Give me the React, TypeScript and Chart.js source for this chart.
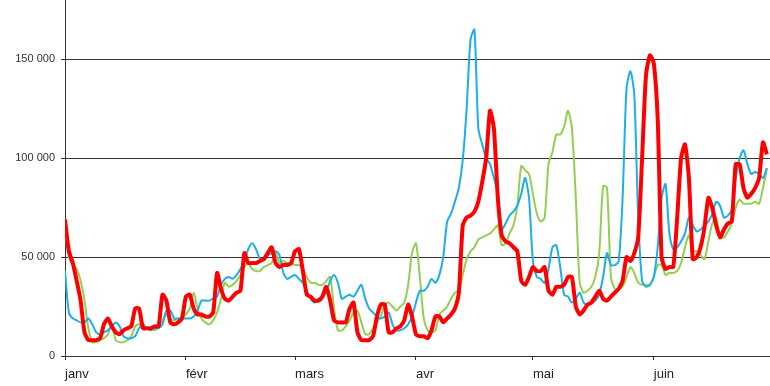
import React, { useEffect, useRef } from "react";
import { Chart, registerables } from "chart.js";

Chart.register(...registerables);

// Day index 0 = 1 janv; month starts (day index) and their labels
const monthStarts = [0, 31, 59, 90, 120, 151];
const monthLabels = ["janv", "févr", "mars", "avr", "mai", "juin"];
const yTicks = [0, 50000, 100000, 150000];

// Daily values, in thousands
const redValues = [
  69, 53, 47, 38, 28, 12, 8, 8, 8, 9,
  16, 19, 15, 12, 11, 13, 14, 15, 24, 24,
  14, 14, 14, 15, 15, 31, 28, 17, 16, 17,
  19, 30, 31, 24, 21, 21, 20, 20, 22, 42,
  34, 29, 28, 30, 32, 33, 52, 47, 47, 47,
  48, 49, 52, 55, 47, 45, 46, 46, 47, 53,
  54, 43, 31, 30, 28, 28, 30, 35, 28, 18,
  17, 17, 17, 24, 27, 12, 8, 8, 8, 10,
  20, 26, 26, 12, 12, 14, 15, 18, 26, 20,
  11, 10, 10, 9, 13, 20, 20, 17, 19, 21,
  24, 32, 66, 70, 71, 73, 78, 88, 100, 124,
  115, 80, 61, 58, 57, 55, 53, 38, 36, 40,
  45, 43, 43, 45, 33, 31, 35, 35, 36, 40,
  40, 25, 21, 23, 26, 27, 30, 33, 29, 28,
  30, 32, 34, 38, 50, 48, 52, 60, 100, 142,
  152, 148, 120, 50, 44, 45, 45, 70, 100, 107,
  90, 49, 50, 55, 65, 80, 75, 66, 60, 64,
  67, 68, 97, 97, 85, 80, 82, 85, 90, 108,
  102,
];

const blueValues = [
  43, 22, 19, 18, 17, 17, 19, 16, 12, 11,
  12, 13, 15, 17, 15, 10, 9, 9, 10, 14,
  16, 14, 13, 14, 14, 16, 23, 23, 19, 19,
  19, 19, 19, 20, 23, 28, 28, 28, 29, 30,
  36, 39, 40, 39, 41, 44, 48, 54, 57, 54,
  49, 49, 51, 52, 53, 51, 42, 39, 40, 41,
  39, 37, 33, 29, 27, 29, 30, 32, 38, 41,
  37, 29, 30, 31, 30, 33, 36, 29, 24, 22,
  20, 19, 20, 22, 16, 13, 13, 14, 16, 20,
  27, 33, 33, 35, 39, 37, 41, 50, 68, 72,
  78, 85, 99, 125, 160, 165, 115, 107, 100, 97,
  90, 82, 64, 67, 71, 73, 76, 82, 90, 80,
  48, 40, 39, 37, 44, 55, 56, 45, 31, 30,
  27, 29, 32, 27, 26, 27, 28, 31, 40, 52,
  46, 46, 48, 80, 135, 144, 132, 70, 38, 35,
  36, 40, 55, 80, 87, 62, 54, 55, 58, 62,
  70, 66, 63, 64, 66, 68, 72, 78, 76, 70,
  71, 74, 90, 100, 104, 97, 92, 93, 92, 90,
  95,
];

const greenValues = [
  63, 50, 46, 44, 38, 28, 14, 7, 7, 8,
  9, 11, 16, 8, 7, 7, 8, 10, 15, 16,
  15, 14, 14, 13, 15, 18, 21, 19, 18, 19,
  19, 21, 24, 32, 24, 19, 17, 16, 18, 22,
  29, 37, 35, 36, 38, 41, 45, 47, 44, 43,
  43, 45, 46, 47, 52, 47, 48, 47, 47, 46,
  46, 44, 40, 37, 37, 36, 36, 38, 40, 24,
  13, 13, 15, 18, 22, 23, 17, 11, 11, 14,
  17, 20, 26, 27, 25, 23, 25, 27, 36, 52,
  57, 40, 19, 13, 12, 13, 21, 23, 25, 29,
  32, 33, 41, 49, 53, 55, 59, 60, 61, 62,
  64, 66, 56, 57, 62, 66, 76, 96, 94, 92,
  82, 72, 68, 70, 97, 103, 112, 112, 116, 124,
  115, 80, 37, 32, 33, 35, 40, 52, 86, 85,
  40, 34, 34, 35, 40, 45, 42, 37, 36, 36,
  36, 40, 46, 46, 41, 42, 42, 43, 47, 55,
  61, 53, 53, 51, 49, 58, 67, 70, 60, 60,
  63, 67, 75, 79, 77, 77, 77, 78, 77, 85,
  95,
];

const fmt = (v: number) => String(v).replace(/\B(?=(\d{3})+(?!\d))/g, " ");

export default function App() {
  const ref = useRef<HTMLCanvasElement>(null);

  useEffect(() => {
    if (!ref.current) return;
    const toPts = (arr: number[]) => arr.map((v, i) => ({ x: i, y: v * 1000 }));
    const axisColor = "#333333";
    const chart = new Chart(ref.current, {
      type: "line",
      data: {
        datasets: [
          {
            label: "rouge",
            data: toPts(redValues),
            borderColor: "#FF0000",
            borderWidth: 4,
            pointRadius: 0,
            tension: 0.2,
            borderJoinStyle: "round",
          },
          {
            label: "bleu",
            data: toPts(blueValues),
            borderColor: "#1AAFEA",
            borderWidth: 2,
            pointRadius: 0,
            tension: 0.25,
          },
          {
            label: "vert",
            data: toPts(greenValues),
            borderColor: "#92D050",
            borderWidth: 2,
            pointRadius: 0,
            tension: 0.25,
          },
        ],
      },
      options: {
        animation: false,
        responsive: false,
        maintainAspectRatio: false,
        layout: { padding: 0 },
        font: { family: "'Liberation Sans', Arial, sans-serif" },
        plugins: { legend: { display: false }, tooltip: { enabled: false } },
        scales: {
          x: {
            type: "linear",
            min: 0,
            max: 180.8,
            afterBuildTicks: (s: any) => {
              s.ticks = monthStarts.map((v) => ({ value: v }));
            },
            afterFit: (s: any) => {
              s.height = 30;
            },
            ticks: {
              autoSkip: false,
              align: "start",
              padding: 7,
              color: "#222222",
              font: { size: 13, family: "'Liberation Sans', Arial, sans-serif" },
              callback: (v: any) => {
                const i = monthStarts.indexOf(Number(v));
                return i >= 0 ? monthLabels[i] : "";
              },
            },
            grid: { drawOnChartArea: false, tickLength: 4, color: axisColor },
            border: { color: axisColor },
          },
          y: {
            type: "linear",
            min: 0,
            max: 180000,
            afterBuildTicks: (s: any) => {
              s.ticks = yTicks.map((v) => ({ value: v }));
            },
            afterFit: (s: any) => {
              s.width = 65;
              s.paddingTop = 0;
              s.paddingBottom = 0;
            },
            ticks: {
              padding: 6,
              color: "#333333",
              font: { size: 11, family: "'Liberation Sans', Arial, sans-serif" },
              callback: (v: any) => fmt(Number(v)),
            },
            grid: { color: axisColor, tickLength: 4 },
            border: { color: axisColor },
          },
        },
      },
    } as any);
    return () => chart.destroy();
  }, []);

  return (
    <div style={{ position: "fixed", left: 0, top: 0, width: 770, height: 386, background: "#fff" }}>
      <canvas ref={ref} width={770} height={386} style={{ display: "block" }} />
    </div>
  );
}
